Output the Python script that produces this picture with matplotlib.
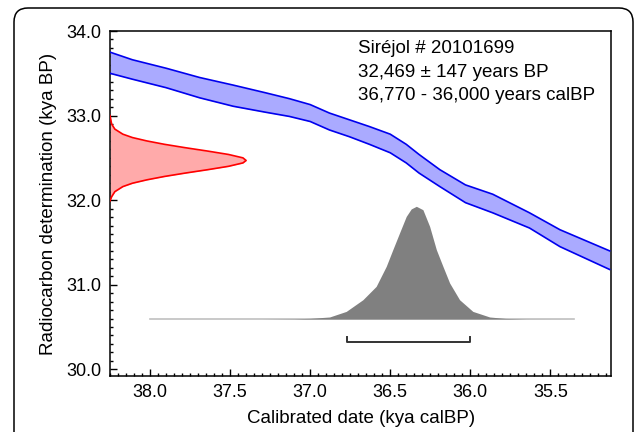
import matplotlib
matplotlib.use('Agg')
import matplotlib.pyplot as plt
from matplotlib.patches import FancyBboxPatch
from matplotlib.ticker import MultipleLocator

plt.rcParams['font.family'] = ['Liberation Sans', 'DejaVu Sans']

# calibration curve band (kya calBP vs kya BP)
band_cal = [38.25, 38.11, 37.90, 37.69, 37.48, 37.28, 37.13, 37.00, 36.88, 36.755,
            36.63, 36.50, 36.40, 36.32, 36.19, 36.03, 35.86, 35.63, 35.44, 35.13]
band_top = [33.75, 33.66, 33.56, 33.45, 33.36, 33.27, 33.20, 33.13, 33.03, 32.95,
            32.87, 32.78, 32.66, 32.54, 32.36, 32.18, 32.07, 31.85, 31.65, 31.40]
band_bot = [33.50, 33.43, 33.33, 33.21, 33.11, 33.04, 32.99, 32.93, 32.83, 32.75,
            32.66, 32.56, 32.44, 32.32, 32.16, 31.97, 31.85, 31.67, 31.45, 31.18]

# radiocarbon measurement (32,469 +/- 147 BP) drawn along the y axis
c14_age = [33.00, 32.90, 32.84, 32.78, 32.74, 32.70, 32.66, 32.62, 32.58, 32.54, 32.50,
           32.469, 32.44, 32.40, 32.36, 32.32, 32.28, 32.24, 32.20, 32.16, 32.10, 32.04, 31.99]
c14_x = [38.25, 38.24, 38.22, 38.17, 38.11, 38.02, 37.91, 37.78, 37.64, 37.51, 37.42,
         37.40, 37.42, 37.51, 37.64, 37.78, 37.91, 38.02, 38.11, 38.17, 38.22, 38.24, 38.25]

# calibrated age distribution (height above its baseline)
cal_x = [38.00, 37.30, 37.10, 37.00, 36.879, 36.775, 36.671, 36.588, 36.525, 36.484, 36.442,
         36.400, 36.369, 36.337, 36.296, 36.254, 36.212, 36.171, 36.129, 36.067, 35.984,
         35.879, 35.780, 35.650, 35.350]
cal_h = [0.0, 0.0, 0.003, 0.008, 0.024, 0.090, 0.228, 0.386, 0.623, 0.820, 1.018,
         1.214, 1.302, 1.333, 1.293, 1.096, 0.820, 0.623, 0.426, 0.228, 0.090,
         0.024, 0.007, 0.001, 0.0]
cal_base = 30.594

# 2-sigma calibrated range
range_lo, range_hi = 36.77, 36.00
range_y = 30.32

info = ['Siréjol # 20101699', '32,469 ± 147 years BP', '36,770 - 36,000 years calBP']

fig = plt.figure(figsize=(6.36, 4.32), dpi=100)

# rounded outer frame
frame = FancyBboxPatch((0.14, -0.5), 6.19, 4.74, boxstyle='round,pad=0,rounding_size=0.14',
                       transform=fig.dpi_scale_trans, fc='none', ec='black', lw=1.1, zorder=0)
fig.patches.append(frame)

ax = fig.add_axes([0.173, 0.1296, 0.788, 0.7986])
ax.set_facecolor('none')

ax.fill_between(band_cal, band_bot, band_top, color='#aaaaff', lw=0, zorder=2)
ax.plot(band_cal, band_top, color='#0000ee', lw=1.2, zorder=3)
ax.plot(band_cal, band_bot, color='#0000ee', lw=1.2, zorder=3)

ax.fill_betweenx(c14_age, 38.25, c14_x, color='#ffaaaa', lw=0, zorder=2)
ax.plot(c14_x, c14_age, color='#ff0000', lw=1.2, zorder=3)

cal_y = [cal_base + h for h in cal_h]
ax.fill_between(cal_x, cal_base, cal_y, color='#808080', lw=0, zorder=2)
ax.plot([cal_x[0], cal_x[-1]], [cal_base, cal_base], color='#c0c0c0', lw=1.2, zorder=1)

ax.plot([range_lo, range_lo, range_hi, range_hi],
        [range_y + 0.06, range_y, range_y, range_y + 0.06], color='#333333', lw=1.4, zorder=3)

for i, line in enumerate(info):
    ax.text(0.495, 0.948 - i * 0.067, line, transform=ax.transAxes, fontsize=13.5,
            ha='left', va='center')

ax.set_xlim(38.25, 35.12)
ax.set_ylim(29.92, 34.0)
ax.xaxis.set_major_locator(MultipleLocator(0.5))
ax.xaxis.set_minor_locator(MultipleLocator(0.05))
ax.yaxis.set_major_locator(MultipleLocator(1.0))
ax.yaxis.set_minor_locator(MultipleLocator(0.1))
ax.xaxis.set_major_formatter(lambda v, p: f'{v:.1f}')
ax.yaxis.set_major_formatter(lambda v, p: f'{v:.1f}')
ax.tick_params(which='both', direction='in', top=False, right=False, labelsize=13, width=1.0)
ax.tick_params(which='major', length=5, pad=6)
ax.tick_params(which='minor', length=2.5)
for s in ax.spines.values():
    s.set_linewidth(1.1)

ax.set_xlabel('Calibrated date (kya calBP)', fontsize=13.5, labelpad=6)
ax.set_ylabel('Radiocarbon determination (kya BP)', fontsize=13.5, labelpad=7)

fig.savefig('out.png', dpi=100)
